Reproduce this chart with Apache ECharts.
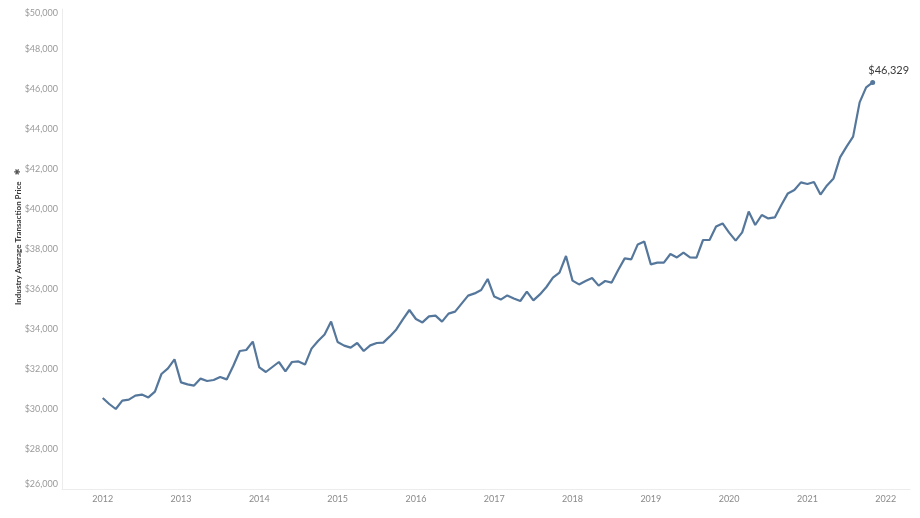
<!DOCTYPE html>
<html>
<head>
<meta charset="utf-8">
<script src="https://cdn.jsdelivr.net/npm/echarts@6/dist/echarts.min.js"></script>
<style>
html,body{margin:0;padding:0;background:#fff;}
#chart{width:920px;height:518px;}
</style>
</head>
<body>
<div id="chart"></div>
<script>
// Monthly average transaction price, Jan 2012 .. Nov 2021
const startYear = 2012;
const prices = [
  30550, 30250, 30000, 30420, 30470, 30670, 30720, 30580, 30870, 31750, 32030, 32480,
  31330, 31230, 31170, 31520, 31400, 31450, 31600, 31480, 32150, 32900, 32950, 33370,
  32080, 31850, 32100, 32350, 31880, 32350, 32380, 32220, 33020, 33400, 33730, 34370,
  33350, 33170, 33070, 33300, 32900, 33180, 33300, 33320, 33630, 33980, 34480, 34950,
  34500, 34330, 34630, 34670, 34370, 34770, 34870, 35270, 35670, 35780, 35950, 36500,
  35620, 35470, 35680, 35530, 35400, 35870, 35430, 35730, 36100, 36570, 36820, 37650,
  36420, 36230, 36400, 36550, 36170, 36400, 36320, 36950, 37530, 37480, 38230, 38370,
  37230, 37320, 37320, 37750, 37580, 37820, 37580, 37570, 38450, 38450, 39120, 39280,
  38820, 38420, 38830, 39870, 39200, 39700, 39530, 39580, 40200, 40780, 40950, 41330,
  41250, 41350, 40720, 41180, 41530, 42580, 43120, 43620, 45330, 46080, 46329
];
const yearTicks = [2012, 2013, 2014, 2015, 2016, 2017, 2018, 2019, 2020, 2021, 2022];
const yTicks = [26000, 28000, 30000, 32000, 34000, 36000, 38000, 40000, 42000, 44000, 46000, 48000, 50000];
const yAxisTitle = 'Industry Average Transaction Price';

const seriesData = prices.map((v, i) => [startYear + i / 12, v]);
const lastIdx = prices.length - 1;

const fmt = v => '$' + v.toLocaleString('en-US');
const FONT = 'Lato, "Open Sans", sans-serif';

const chart = echarts.init(document.getElementById('chart'), null, {renderer: 'canvas'});
chart.setOption({
  animation: false,
  grid: {left: 62, right: 10, top: 9, bottom: 29, containLabel: false},
  graphic: [{
    type: 'text',
    x: 18,
    y: 305,
    rotation: Math.PI / 2,
    style: {
      text: yAxisTitle,
      fill: '#333',
      font: 'bold 8px ' + FONT,
      align: 'left',
      verticalAlign: 'middle'
    }
  }, {
    type: 'text',
    x: 18,
    y: 172,
    rotation: Math.PI / 2,
    style: {
      text: '✱',
      fill: '#555',
      font: '8px "DejaVu Sans", sans-serif',
      align: 'center',
      verticalAlign: 'middle'
    }
  }],
  xAxis: {
    type: 'value',
    min: 2011.48,
    max: 2022.31,
    axisLine: {show: true, lineStyle: {color: '#ececec', width: 1}},
    axisTick: {show: false},
    splitLine: {show: false},
    axisLabel: {
      customValues: yearTicks,
      formatter: v => String(Math.round(v)),
      color: '#8a8a8a',
      fontSize: 9,
      fontFamily: FONT,
      margin: 6
    }
  },
  yAxis: {
    type: 'value',
    min: 26000,
    max: 50000,
    axisLine: {show: true, lineStyle: {color: '#ececec', width: 1}},
    axisTick: {show: false},
    splitLine: {show: false},
    axisLabel: {
      customValues: yTicks,
      formatter: v => fmt(v),
      color: '#9a9a9a',
      fontSize: 9,
      fontFamily: FONT,
      margin: 4,
      verticalAlignMaxLabel: 'top',
      verticalAlignMinLabel: 'bottom'
    }
  },
  series: [{
    type: 'line',
    data: seriesData,
    showSymbol: false,
    lineStyle: {color: '#55779b', width: 2.2},
    itemStyle: {color: '#55779b'},
    markPoint: {
      symbol: 'circle',
      symbolSize: 5,
      itemStyle: {color: '#55779b'},
      data: [{coord: seriesData[lastIdx], value: prices[lastIdx]}],
      label: {
        show: true,
        position: 'top',
        offset: [16, 1],
        formatter: p => fmt(p.value),
        color: '#3a3a3a',
        fontSize: 11,
        fontFamily: FONT
      }
    }
  }]
});
</script>
</body>
</html>
